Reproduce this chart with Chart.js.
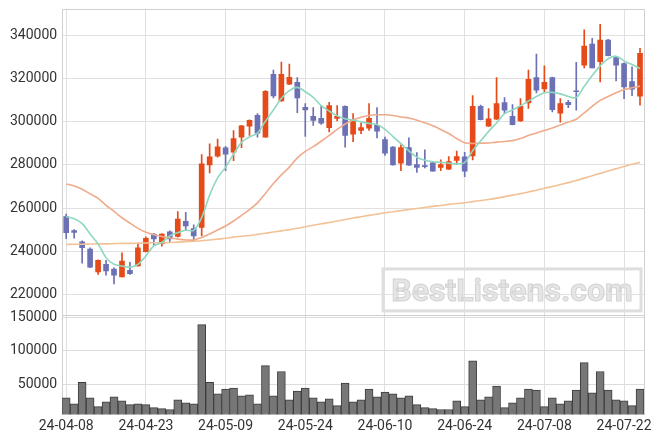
<!DOCTYPE html>
<html>
<head>
<meta charset="utf-8">
<script src="https://cdn.jsdelivr.net/npm/chart.js@4.4.1/dist/chart.umd.min.js"></script>
<style>
    html, body { margin: 0; padding: 0; background: #fff; }
    #wrap { width: 663px; height: 444px; }
</style>
</head>
<body>
<div id="wrap"><canvas id="stock_chart"></canvas></div>
<script>
// Trading days
const dates = [
    '24-04-08','24-04-09','24-04-11','24-04-12','24-04-15','24-04-16','24-04-17','24-04-18','24-04-19','24-04-22',
    '24-04-23','24-04-24','24-04-25','24-04-26','24-04-29','24-04-30','24-05-02','24-05-03','24-05-07','24-05-08',
    '24-05-09','24-05-10','24-05-13','24-05-14','24-05-16','24-05-17','24-05-20','24-05-21','24-05-22','24-05-23',
    '24-05-24','24-05-27','24-05-28','24-05-29','24-05-30','24-05-31','24-06-03','24-06-04','24-06-05','24-06-07',
    '24-06-10','24-06-11','24-06-12','24-06-13','24-06-14','24-06-17','24-06-18','24-06-19','24-06-20','24-06-21',
    '24-06-24','24-06-25','24-06-26','24-06-27','24-06-28','24-07-01','24-07-02','24-07-03','24-07-04','24-07-05',
    '24-07-08','24-07-09','24-07-10','24-07-11','24-07-12','24-07-15','24-07-16','24-07-17','24-07-18','24-07-19',
    '24-07-22','24-07-23','24-07-24'
];

// Tick labels
const priceTicks  = [220000, 240000, 260000, 280000, 300000, 320000, 340000];
const volumeTicks = [50000, 100000, 150000];

// OHLC
const opens = [
    256000,249600,244300,241000,230400,233900,231700,228000,231100,233100,
    239800,247900,243500,249000,246800,253800,250500,251000,280000,284100,
    288000,285900,292900,298000,303000,292900,322100,309700,317500,318400,
    306800,302600,301600,297300,301600,307200,294300,296000,297100,298400,
    291800,288300,280800,288100,280200,279700,281000,278900,278000,282100,
    283800,284200,307200,298000,301300,309000,302600,300400,308800,320600,
    315300,320600,304100,309100,314400,326300,336100,327900,338000,329900,
    327100,318700,311900
];
const highs = [
    257200,250000,244800,241600,236000,235800,232300,239200,234800,243800,
    246600,248200,248200,249400,258400,258000,252200,284800,289800,292000,
    288600,296000,298400,301000,303800,314500,324000,327700,326800,320600,
    308500,306600,307200,309100,307600,307400,303800,299400,308500,306600,
    292900,288500,289400,292600,285800,287000,281300,282400,283900,286400,
    285900,312200,307800,306200,320600,311300,308000,310800,324000,331500,
    326000,320800,310800,310000,327600,342700,338800,345300,338300,330000,
    327400,325500,334100
];
const lows = [
    245800,246000,234400,232300,229200,228900,224800,228000,229200,233000,
    239600,242700,242300,244400,246500,249700,244800,247100,276300,283600,
    277400,282000,288000,293700,292900,292900,311100,309500,317300,304300,
    293200,298400,298800,295400,300400,288300,290800,294500,296000,292600,
    284400,279900,277400,279800,276500,278600,277100,277400,277900,280200,
    274600,282400,300900,297900,301200,303800,298600,300200,306200,313400,
    313900,304600,299900,306600,305400,325100,325000,318600,330600,319000,
    310800,312200,307700
];
const closes = [
    248600,248700,241600,232600,235800,230800,228900,235400,229500,241500,
    246000,245700,247900,245700,254900,251700,247100,280500,283800,288400,
    285000,292200,298200,300700,294800,314200,312000,322100,320700,311100,
    305500,300700,299400,307600,302600,293700,301200,297400,301600,295700,
    285500,280000,288100,279900,278900,279200,277100,280200,281600,283900,
    277100,307200,301000,301400,308500,305400,298700,307200,319700,314700,
    318400,305700,308500,308000,314000,335200,325100,338000,330700,326300,
    316200,315200,331800
];

// Moving averages
const maFast = [
    256000,255000,252800,248000,243400,237000,233900,233100,232600,233900,
    237800,242500,244000,247100,248600,249700,249700,255600,266000,274000,
    278900,285000,290500,293000,294800,300300,305500,311000,314500,316000,
    314000,311400,307500,305000,302800,301500,300800,300000,299300,298800,
    296500,293200,289900,286500,283600,282200,281500,281200,280800,280500,
    281100,286600,291100,295600,299500,303800,305500,307500,309700,311800,
    313500,313700,313000,311800,311300,316500,321500,326000,329300,330500,
    328300,326600,324800
];
const maMid = [
    271200,270200,268700,266600,264500,261300,258500,255500,253000,250600,
    248800,247600,246800,246200,245600,245200,245200,246300,248000,249800,
    251700,254000,256600,259300,262400,266800,271400,275400,279000,283300,
    286300,288500,291000,293700,296500,299000,300900,302200,303000,303300,
    303300,303000,302300,301800,300800,299600,298200,296500,294600,292300,
    290300,290000,290100,290200,290600,290900,291300,292300,293700,294800,
    296000,297200,298500,299900,301200,304200,307200,310000,311800,313500,
    315000,315800,316600
];
const maSlow = [
    243100,243200,243200,243300,243400,243400,243500,243600,243600,243700,
    243800,243900,243900,244000,244200,244400,244600,244800,245200,245600,
    246000,246500,246900,247300,247800,248300,248900,249400,250000,250600,
    251300,252000,252700,253300,254000,254700,255400,256000,256600,257200,
    257800,258300,258800,259300,259800,260300,260800,261200,261700,262100,
    262500,263000,263500,264000,264600,265300,266000,266700,267500,268300,
    269200,270000,270900,271800,272800,273900,275000,276100,277200,278300,
    279300,280300,281200
];

// Volume
const volumes = [
    29500,20700,52900,29500,16400,23700,31000,25100,19300,20700,
    19300,14900,13400,12000,26600,22200,20700,139200,52900,35400,
    42700,44100,32400,33900,20700,77800,32400,69000,26600,39800,
    44100,29500,23700,28000,17800,51500,23700,26600,42700,31000,
    38300,35400,29500,32400,19300,14900,13400,12000,12000,25100,
    16400,85100,26600,31000,47100,14900,22200,29500,42700,41200,
    16400,29500,20700,25100,41200,82200,36900,69000,41200,26600,
    25100,17800,42700
];

const UP_COLOR   = '#e64a19';
const DOWN_COLOR = '#6c70b4';

const candleColors = closes.map( ( c, i ) => c >= opens[i] ? UP_COLOR : DOWN_COLOR );

Chart.defaults.font.family = 'Roboto';
Chart.defaults.font.size   = 14;
Chart.defaults.color       = '#333';

// frames round both panels + watermark
const panelFrame = {
    id: 'panelFrame',
    beforeDraw(chart) {
        const ctx = chart.ctx, area = chart.chartArea, py = chart.scales.y;
        const w = 258, h = 42;
        const x = area.right - 3 - w, y = py.bottom - 4 - h;
        ctx.save();
        ctx.strokeStyle = '#dedede';
        ctx.lineWidth = 3;
        ctx.strokeRect(x, y, w, h);
        ctx.font = 'bold 32px Roboto';
        ctx.textAlign = 'center';
        ctx.textBaseline = 'alphabetic';
        ctx.fillStyle = '#e6e6e6';
        ctx.fillText('BestListens.com', x + w / 2, y + h / 2 + 11.5, 246);
        ctx.strokeStyle = '#d2d2d2';
        ctx.lineWidth = 1;
        ctx.strokeText('BestListens.com', x + w / 2, y + h / 2 + 11.5, 246);
        ctx.restore();
    },
    beforeDatasetsDraw(chart) {
        const ctx = chart.ctx, area = chart.chartArea;
        ctx.save();
        ctx.strokeStyle = '#d0d0d0';
        ctx.lineWidth = 1;
        ['y', 'yv'].forEach( ( id ) => {
            const s = chart.scales[id];
            ctx.strokeRect(Math.round(area.left) + 0.5, Math.round(s.top) + 0.5,
                Math.round(area.right - area.left), Math.round(s.bottom - s.top));
        });
        ctx.restore();
    }
};

const lineSet = ( data, color ) => ({
    type: 'line',
    data: data,
    yAxisID: 'y',
    borderColor: color,
    borderWidth: 1.6,
    pointRadius: 0,
    tension: 0.3,
    order: 0
});

// y tick font with a short line box so the axis reserves less space at the top
const yTickFont = { family: 'Roboto', size: 14, lineHeight: 0.6 };

new Chart(document.getElementById('stock_chart'), {
    type: 'bar',
    data: {
        labels: dates,
        datasets: [
            lineSet(maFast, '#8fd8bf'),
            lineSet(maMid, '#efab8b'),
            lineSet(maSlow, '#f3c196'),
            {
                data: opens.map( ( o, i ) => [o, closes[i]] ),
                yAxisID: 'y',
                backgroundColor: candleColors,
                barThickness: 5,
                grouped: false,
                order: 1
            },
            {
                data: lows.map( ( l, i ) => [l, highs[i]] ),
                yAxisID: 'y',
                backgroundColor: candleColors,
                barThickness: 1,
                grouped: false,
                order: 2
            },
            {
                data: volumes,
                yAxisID: 'yv',
                backgroundColor: '#777777',
                borderColor: '#3d3d3d',
                borderWidth: 1,
                barPercentage: 1,
                categoryPercentage: 1,
                grouped: false,
                order: 3
            }
        ]
    },
    options: {
        responsive: true,
        maintainAspectRatio: false,
        animation: false,
        layout: { padding: { top: 0, right: 19, bottom: 5, left: 5 } },
        plugins: { legend: { display: false }, tooltip: { enabled: false } },
        scales: {
            x: {
                offset: true,
                grid: { offset: false, color: '#e0e0e0', drawTicks: false },
                border: { display: false },
                ticks: {
                    autoSkip: false,
                    maxRotation: 0,
                    padding: 4,
                    callback: ( v, i ) => i % 10 === 0 ? dates[i] : null
                }
            },
            yv: {
                position: 'left',
                stack: 'panels',
                stackWeight: 1,
                min: 5000,
                max: 153700,
                grid: { color: '#dcdcdc', drawTicks: false },
                border: { display: false },
                afterBuildTicks: ( axis ) => { axis.ticks = volumeTicks.map( ( v ) => ({ value: v }) ); },
                ticks: { padding: 5, font: yTickFont, callback: ( v ) => String(v) }
            },
            y: {
                position: 'left',
                stack: 'panels',
                stackWeight: 3.08,
                min: 210400,
                max: 352300,
                grid: { color: '#e0e0e0', drawTicks: false },
                border: { display: false },
                afterBuildTicks: ( axis ) => { axis.ticks = priceTicks.map( ( v ) => ({ value: v }) ); },
                ticks: { padding: 5, font: yTickFont, callback: ( v ) => String(v) }
            }
        }
    },
    plugins: [panelFrame]
});
</script>
</body>
</html>
